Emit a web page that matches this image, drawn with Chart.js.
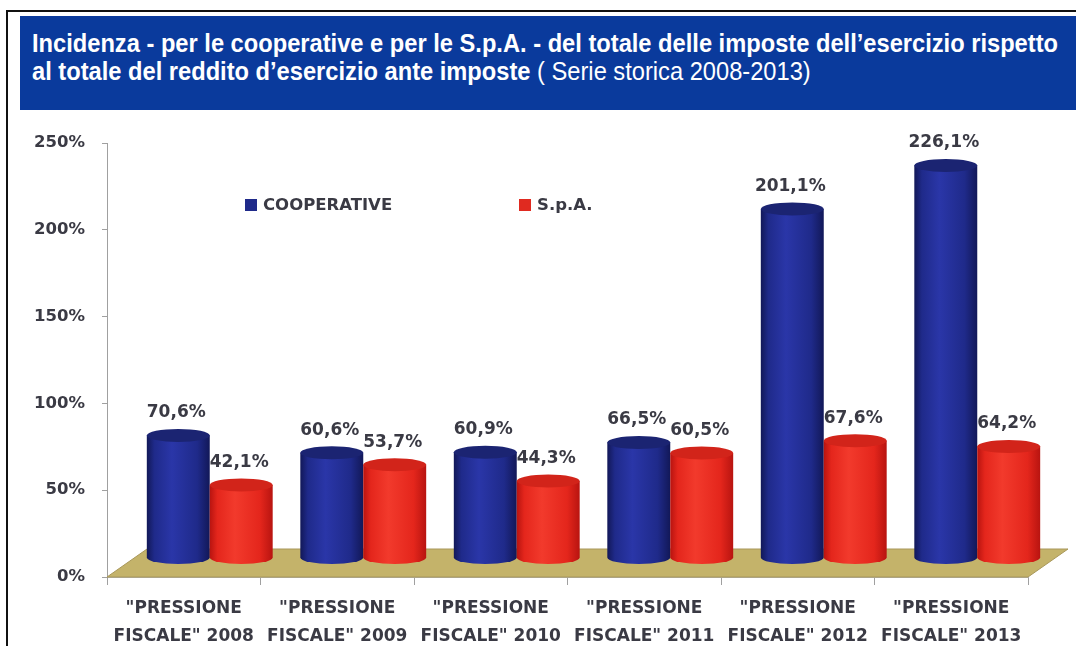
<!DOCTYPE html>
<html>
<head>
<meta charset="utf-8">
<script src="https://cdn.jsdelivr.net/npm/chart.js@4"></script>
<style>
  html, body { margin: 0; padding: 0; background: #fff; overflow: hidden; }
  #page { position: relative; width: 1076px; height: 646px; }
  #frame {
    position: absolute; left: 6px; top: 10px; width: 1080px; height: 650px;
    border-left: 2px solid #111; border-top: 2px solid #111;
  }
  #banner {
    position: absolute; left: 20px; top: 16px; width: 1070px; height: 94px;
    background: #0a3a9c; z-index: 2;
  }
  .line {
    position: absolute; left: 12px; white-space: nowrap; color: #fff;
    font-family: "Liberation Sans Narrow", "Arial Narrow", "Liberation Sans", sans-serif;
    font-size: 26px; line-height: 28px; transform-origin: left top;
  }
  #l1 { top: 13px; font-weight: bold; }
  #l2 { top: 41px; font-weight: normal; }
  #l2 b { font-weight: bold; }
  #chart { position: absolute; left: 0; top: 0; }
</style>
</head>
<body>
<div id="page">
  <div id="frame"></div>
  <canvas id="chart" width="1076" height="646"></canvas>
  <div id="banner">
    <div class="line" id="l1">Incidenza - per le cooperative e per le S.p.A. - del totale delle imposte dell’esercizio rispetto</div>
    <div class="line" id="l2"><b>al totale del reddito d’esercizio ante imposte</b> ( Serie storica 2008-2013)</div>
  </div>
</div>
<script>
const categories = [
  ['"PRESSIONE', 'FISCALE" 2008'],
  ['"PRESSIONE', 'FISCALE" 2009'],
  ['"PRESSIONE', 'FISCALE" 2010'],
  ['"PRESSIONE', 'FISCALE" 2011'],
  ['"PRESSIONE', 'FISCALE" 2012'],
  ['"PRESSIONE', 'FISCALE" 2013'],
]
const cooperative = [70.6, 60.6, 60.9, 66.5, 201.1, 226.1]
const spa = [42.1, 53.7, 44.3, 60.5, 67.6, 64.2]
const seriesNames = ['COOPERATIVE', 'S.p.A.']
const yMax = 250
const yStep = 50

// squeeze the condensed title so the first line fills the banner
const l1 = document.getElementById('l1')
const l2 = document.getElementById('l2')
const squeeze = 1026 / l1.getBoundingClientRect().width
l1.style.transform = `scaleX(${squeeze})`
l2.style.transform = `scaleX(${squeeze})`

const FONT = '"DejaVu Sans", sans-serif'
const TEXT = '#3a3a44'

// fake 3D: cylinders sit on a floor pushed back from the axis line
const DEPTH_X = 26
const DEPTH_Y = -19
const FLOOR_X = 40
const FLOOR_Y = -28
const RY = 6.5

const shades = [
  { edge: '#121858', light: '#2a36a8', mid: '#1f2a8a', top: '#1b2472' },
  { edge: '#b81410', light: '#f23a2c', mid: '#e4261c', top: '#d2241a' },
]

const fmt = (v) => v.toFixed(1).replace('.', ',') + '%'

function drawCylinder(ctx, cx, top, bottom, w, s) {
  const rx = w / 2
  const g = ctx.createLinearGradient(cx - rx, 0, cx + rx, 0)
  g.addColorStop(0, s.edge)
  g.addColorStop(0.12, s.mid)
  g.addColorStop(0.4, s.light)
  g.addColorStop(0.8, s.mid)
  g.addColorStop(1, s.edge)

  ctx.beginPath()
  ctx.moveTo(cx - rx, top)
  ctx.lineTo(cx - rx, bottom)
  ctx.ellipse(cx, bottom, rx, RY, 0, Math.PI, 0, true)
  ctx.lineTo(cx + rx, top)
  ctx.closePath()
  ctx.fillStyle = g
  ctx.fill()

  ctx.beginPath()
  ctx.ellipse(cx, top, rx, RY, 0, 0, Math.PI * 2)
  ctx.fillStyle = s.top
  ctx.fill()
}

const cylinders = {
  id: 'cylinders',
  beforeDatasetsDraw(chart) {
    const { ctx, chartArea } = chart
    const { left, right, bottom } = chartArea

    // floor
    ctx.save()
    ctx.beginPath()
    ctx.moveTo(left, bottom)
    ctx.lineTo(right, bottom)
    ctx.lineTo(right + FLOOR_X, bottom + FLOOR_Y)
    ctx.lineTo(left + FLOOR_X, bottom + FLOOR_Y)
    ctx.closePath()
    ctx.fillStyle = '#c4b36a'
    ctx.fill()
    ctx.strokeStyle = '#a8975a'
    ctx.lineWidth = 1
    ctx.stroke()

    chart.data.datasets.forEach((ds, i) => {
      const meta = chart.getDatasetMeta(i)
      meta.data.forEach((el) => {
        drawCylinder(ctx, el.x + DEPTH_X, el.y + DEPTH_Y, el.base + DEPTH_Y, el.width, shades[i])
      })
    })

    // value labels
    ctx.font = `bold 17px ${FONT}`
    ctx.fillStyle = TEXT
    ctx.textAlign = 'center'
    ctx.textBaseline = 'middle'
    chart.data.datasets.forEach((ds, i) => {
      const meta = chart.getDatasetMeta(i)
      meta.data.forEach((el, j) => {
        ctx.fillText(fmt(ds.data[j]), el.x + DEPTH_X - 2, el.y + DEPTH_Y - RY - 16)
      })
    })

    // legend
    const legendX = [245, 519]
    ctx.font = `bold 16.5px ${FONT}`
    ctx.textAlign = 'left'
    chart.data.datasets.forEach((ds, i) => {
      ctx.fillStyle = ds.backgroundColor
      ctx.fillRect(legendX[i], 199, 12, 12)
      ctx.fillStyle = TEXT
      ctx.fillText(ds.label, legendX[i] + 18, 206)
    })
    ctx.restore()
    return false
  },
}

new Chart(document.getElementById('chart'), {
  type: 'bar',
  data: {
    labels: categories,
    datasets: [
      { label: seriesNames[0], data: cooperative, backgroundColor: '#1f2a8a' },
      { label: seriesNames[1], data: spa, backgroundColor: '#e02a20' },
    ],
  },
  options: {
    responsive: false,
    animation: false,
    layout: { padding: { top: 143, right: 48, bottom: 0, left: 0 } },
    datasets: {
      bar: { categoryPercentage: 0.82, barPercentage: 1 },
    },
    plugins: {
      legend: { display: false },
      tooltip: { enabled: false },
    },
    scales: {
      x: {
        afterFit: (scale) => { scale.height = 69 },
        border: { color: '#b0b0b0' },
        grid: { offset: true, drawOnChartArea: false, tickLength: 8, color: '#a0a0a0' },
        ticks: {
          color: TEXT,
          padding: 10,
          maxRotation: 0,
          autoSkip: false,
          font: { family: FONT, size: 17, weight: 'bold', lineHeight: 1.65 },
        },
      },
      y: {
        min: 0,
        max: yMax,
        afterFit: (scale) => { scale.width = 107 },
        border: { color: '#a0a0a0' },
        grid: { drawOnChartArea: false, tickLength: 5, color: '#a0a0a0' },
        ticks: {
          stepSize: yStep,
          color: TEXT,
          padding: 17,
          font: { family: FONT, size: 16.5, weight: 'bold' },
          callback: (v) => v + '%',
        },
      },
    },
  },
  plugins: [cylinders],
})
</script>
</body>
</html>
